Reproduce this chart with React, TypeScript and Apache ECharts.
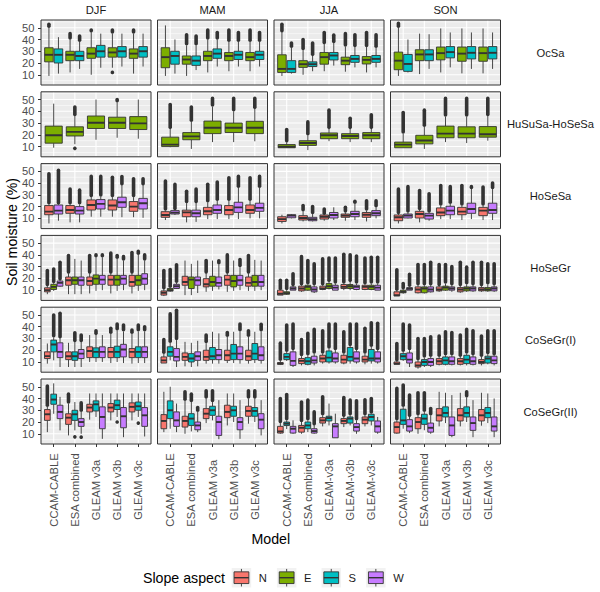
import React, { useEffect, useRef } from 'react';
import * as echarts from 'echarts';

// ---------- categories ----------
const SEASONS = ['DJF', 'MAM', 'JJA', 'SON'];
const MODELS = ['CCAM-CABLE', 'ESA combined', 'GLEAM v3a', 'GLEAM v3b', 'GLEAM v3c'];
const MODELS_JJA = ['CCAM-CABLE', 'ESA combined', 'GLEAM-v3a', 'GLEAM-v3b', 'GLEAM-v3c'];
const ROWS = ['OcSa', 'HuSuSa-HoSeSa', 'HoSeSa', 'HoSeGr', 'CoSeGr(I)', 'CoSeGr(II)'];
const ASPECTS = ['N', 'E', 'S', 'W'];
const ASPECT_COLORS = ['#F8766D', '#7CAE00', '#00BFC4', '#C77CFF'];
const Y_MAJOR = [10, 20, 30, 40, 50];
const Y_MINOR = [5, 15, 25, 35, 45, 55];
const X_TICKS = [1, 2, 3, 4, 5];

// ---------- box statistics ----------
// per season (DJF, MAM, JJA, SON), per model: [lower whisker, Q1, median, Q3, upper whisker, top of outliers, low outlier]
const OcSa_E = [
  [[9, 21, 27, 33, 50, 53, 0], [12, 22, 27, 30, 40, 45, 0], [10, 24, 28, 33, 46, 48, 0], [16, 25, 29, 33, 45, 48, 12], [11, 24, 28, 32, 45, 48, 0]],
  [[9, 16, 25, 33, 52, 0, 0], [9, 19, 23, 26, 35, 44, 0], [12, 22, 26, 30, 40, 48, 0], [13, 22, 26, 29, 38, 48, 0], [13, 22, 25, 29, 38, 48, 0]],
  [[9, 12, 15, 27, 46, 53, 0], [10, 16.3, 19, 22, 31, 40, 0], [13, 19, 25, 29, 36, 46, 0], [12.6, 18.6, 22, 25, 34, 45, 0], [12, 19.2, 22.7, 25.5, 33.6, 46, 0]],
  [[9, 14.3, 22, 29.3, 50, 53.7, 0], [10.6, 22, 27.3, 31.3, 45, 0, 0], [12, 22.7, 28.4, 33.6, 49.4, 0, 0], [11.2, 21.5, 28, 33.6, 49.4, 0, 0], [11.2, 21.5, 28.4, 33.6, 49.4, 0, 0]],
];
const OcSa_S = [
  [[11, 20, 27, 32, 42, 0, 0], [15, 22, 26, 30, 38, 43, 0], [16, 25, 30, 35, 45, 0, 0], [17, 25, 30, 34, 45, 0, 0], [17, 25, 30, 34, 45, 0, 0]],
  [[11, 19, 26, 30, 40, 0, 0], [14, 18, 22, 26, 35, 43, 0], [17, 24, 28, 32, 40, 46, 0], [17, 23, 27, 30, 38, 46, 0], [17, 23, 27, 30, 38, 46, 0]],
  [[11, 12, 15, 22, 33, 37, 0], [13, 17, 19, 21, 26, 37, 0], [17.8, 22.6, 26.4, 29, 37, 43.7, 0], [16.3, 20.6, 23.5, 26.4, 33.6, 44, 0], [16.3, 20.6, 23.5, 26.4, 33, 44, 0]],
  [[12, 12.9, 19.2, 27.3, 40, 0, 0], [15, 22, 27.3, 31.3, 44.5, 0, 0], [16.3, 24.4, 29.3, 34, 46, 0, 0], [15, 23.5, 28.7, 34, 46, 0, 0], [15, 23.5, 28.7, 34, 46, 0, 0]],
];
const HuSuSa_E = [
  [[9, 12.9, 19.6, 27.4, 46.5, 0, 0], [12, 19, 22.5, 26.8, 36, 43.6, 8.5], [15.8, 25.4, 30.3, 36, 50, 0, 0], [17.5, 25.4, 30.3, 35, 47.7, 50, 0], [16.7, 24.5, 29.7, 35.5, 50, 0, 0]],
  [[9.4, 10, 11.7, 18, 25, 45.7, 0], [8, 15.8, 18.7, 21.9, 31, 43.6, 0], [13.8, 21, 26, 31.7, 44, 51, 0], [13.8, 22, 26, 30, 40, 51, 0], [14.5, 21, 26, 31.5, 42, 51, 0]],
  [[8.8, 9, 9.8, 11.7, 13.5, 24.5, 0], [7, 11, 13, 15, 19.6, 31, 0], [14.6, 16.7, 19.6, 21.6, 25, 41, 0], [13.8, 16.7, 19, 21, 25, 34, 0], [13.8, 16.7, 19.6, 21.9, 25, 37, 0]],
  [[9, 9, 11.7, 13.8, 21, 39, 0], [8, 12.3, 15.2, 19.6, 26.8, 41, 0], [13.8, 17.5, 21, 27.4, 35.5, 51, 0], [13, 17.5, 21, 26.8, 35.5, 51, 0], [15, 18, 20.5, 27, 36, 51, 0]],
];
const HoSeSa_N = [
  [[5.7, 13.1, 15.7, 20.9, 22, 48, 0], [6.6, 14.3, 17.1, 20.9, 22, 35, 0], [11.4, 17.1, 21.4, 25.7, 28, 45.7, 0], [11.4, 17.1, 21, 25.7, 28, 45, 0], [11, 16, 20, 24.3, 28, 43.7, 0]],
  [[8.6, 10.9, 12.9, 15.7, 16.6, 41.7, 0], [6.6, 11.4, 15.1, 17, 22.9, 33, 0], [9.4, 13.1, 16, 19.4, 23.7, 39, 0], [9.4, 13.1, 17.1, 20.9, 25, 44.6, 0], [10, 14.3, 17.1, 21.4, 25, 44.6, 0]],
  [[5.7, 7.4, 9.4, 11.4, 13.1, 0, 0], [7.4, 8.6, 10.3, 12.3, 16, 21, 0], [8, 9.4, 11.4, 12.9, 13.1, 18, 0], [8, 10.9, 12.3, 13.7, 15, 19.4, 0], [7.4, 10.9, 13.1, 15, 16.6, 25, 0]],
  [[5.7, 8, 10.9, 12.9, 13.7, 35, 0], [6.6, 10.3, 13.7, 16, 17.1, 33.7, 0], [9.4, 12.3, 15, 18.9, 20.9, 38, 0], [8.6, 13.1, 15.7, 19.4, 20.9, 38, 0], [8.6, 12.3, 16.6, 19.4, 20.9, 36.6, 0]],
];
const HoSeSa_W = [
  [[8, 13.7, 16.6, 21.4, 22, 51, 0], [6.6, 13.7, 16.6, 20, 22, 34, 0], [11.4, 18, 22.3, 26, 28.6, 45.7, 0], [11, 19.4, 23.7, 28, 38, 45.6, 0], [10.5, 18, 22.9, 27, 38, 43.7, 0]],
  [[12.9, 13.7, 14.9, 16.6, 17.1, 38.9, 0], [7, 11.4, 14.3, 17, 22.9, 35, 0], [9.4, 14.3, 17.1, 21.4, 25, 40.9, 0], [9.4, 15.1, 19.4, 23.7, 36, 45.7, 0], [10, 16, 18.9, 22.9, 36, 45.7, 0]],
  [[10, 10.5, 12.3, 13.1, 13.7, 0, 0], [7.4, 8, 9.4, 10.9, 13.7, 20, 0], [8.6, 10.3, 12.9, 15, 19.4, 0, 0], [8.6, 11.4, 13.7, 16, 22.3, 24.6, 0], [10, 12.3, 14.3, 16.6, 19.4, 25, 0]],
  [[10, 10.3, 12.3, 13.7, 15, 37, 0], [8, 9.4, 12.3, 14.3, 15, 30.9, 0], [9.4, 13.1, 16.6, 20.3, 22.3, 37, 0], [9.4, 14.3, 18, 22.9, 35, 37, 0], [8.6, 14.3, 17.1, 22.9, 35, 40, 0]],
];
const HoSeGr_N = [
  [[6.6, 8.6, 10, 12, 13.4, 26.8, 0], [6.6, 14.2, 18.4, 21.2, 24, 39.4, 0], [7.2, 14.2, 17.8, 21.2, 24, 39.4, 0], [7.2, 14.2, 19, 22.6, 24, 41.6, 0], [7.2, 13.4, 17, 22.6, 24, 42, 0]],
  [[5, 5.8, 7.8, 9.4, 10.6, 26.8, 0], [5.8, 14.2, 17, 21.8, 35.2, 0, 0], [8.6, 12.8, 15, 19.8, 24, 35.2, 0], [8.6, 14.2, 19, 22.6, 24, 40, 0], [9.4, 13.4, 16.2, 21.2, 24, 39.4, 0]],
  [[5.8, 5.8, 7, 10, 10, 18.4, 0], [8.6, 9.4, 11.4, 13.4, 14.2, 38.5, 0], [10, 10.6, 11.4, 13.4, 14.2, 36.6, 0], [10, 11.4, 12.8, 14.8, 15.6, 40.5, 0], [10, 10.6, 12.8, 14.2, 15, 37.4, 0]],
  [[5, 5, 5.8, 8.6, 9.4, 27.4, 0], [7.2, 7.8, 10.6, 12.8, 14.2, 31.8, 0], [8.6, 9.4, 10.6, 12.8, 13.4, 31.8, 0], [7.8, 8.6, 10.6, 12.2, 13.4, 33.8, 0], [8.6, 9.4, 10.6, 12.2, 13.4, 33.8, 0]],
];
const HoSeGr_E = [
  [[9.4, 10.6, 12.8, 15, 16, 28, 0], [6.6, 15, 18.4, 21.2, 36.6, 0, 0], [9.4, 15, 19.8, 23, 38, 40, 0], [9.4, 14.2, 19, 22.6, 36.6, 39.4, 0], [9.4, 14.2, 18.4, 22.6, 40, 43, 0]],
  [[8.6, 9.2, 10, 11.4, 12, 27.6, 0], [5.8, 11.4, 19, 21.2, 32.4, 0, 0], [9.4, 13.4, 17, 21.8, 35.2, 0, 0], [9.4, 12.8, 17.8, 22.6, 35.2, 0, 0], [9.4, 13.4, 17, 22.6, 35.8, 0, 0]],
  [[6, 6.6, 7.4, 8.6, 10, 18.4, 0], [9.4, 10, 12.8, 14.2, 15, 35.2, 0], [10.6, 11.4, 13.4, 15.6, 17, 37.4, 0], [10, 11.4, 13.4, 14.8, 17, 40.2, 0], [10, 10.6, 12.8, 14.2, 15.6, 38, 0]],
  [[7, 7.8, 8.6, 10, 10.6, 15.6, 0], [7.2, 7.8, 11.4, 12.8, 14.2, 31.8, 0], [9.4, 10, 12.2, 13.4, 15.6, 31.8, 0], [8.6, 9.4, 11.4, 12.8, 15, 29.6, 0], [8.6, 9.4, 10.6, 12.2, 15, 32.4, 0]],
];
const HoSeGr_W = [
  [[12.8, 13.4, 16.2, 17.8, 18.4, 33.8, 0], [6.6, 14.2, 18.4, 21.2, 35.2, 0, 0], [10, 15, 19, 22.6, 38, 40, 0], [10, 15, 19.8, 22.6, 35.2, 38.5, 0], [10, 15, 19.8, 24, 35.2, 40, 0]],
  [[11, 11.4, 13.4, 15, 16.2, 31.6, 0], [7.6, 14.2, 18.4, 21.2, 35.2, 0, 0], [10.6, 13.4, 16.2, 21.2, 32, 35, 0], [10, 14.2, 18.4, 22.6, 29.6, 36, 0], [10, 13.4, 17, 22.6, 35.2, 0, 0]],
  [[10, 10, 11.4, 12.8, 13.4, 24, 0], [7.6, 8.6, 10.6, 12.8, 14.2, 32.4, 0], [10, 10, 12.2, 14.2, 15.6, 37.4, 0], [10, 10.6, 12.8, 14.2, 15.6, 39, 0], [10, 10, 12.2, 14.2, 15.6, 38, 0]],
  [[10, 10, 11.1, 12.2, 12.8, 23.4, 0], [8, 8.6, 10.6, 12.8, 14.2, 33.8, 0], [8.6, 10, 11.4, 12.8, 14.2, 30, 0], [8.6, 9.4, 11.4, 12.8, 14.2, 33.8, 0], [8.6, 9.4, 11.4, 12.8, 14.2, 32.4, 0]],
];
const CoSeGr1_N = [
  [[8.6, 12.9, 15, 18.6, 25.7, 0, 0], [5.7, 12, 14.9, 18.6, 26.3, 0, 0], [10, 13.7, 19.4, 22.9, 32.9, 0, 0], [9.1, 13.7, 18.6, 22.3, 34, 38.6, 0], [8.6, 13.7, 18.6, 21.4, 34, 37.1, 0]],
  [[9.1, 9.1, 11.4, 14.3, 17, 29, 0], [6.3, 11.4, 14.3, 17.7, 27.1, 0, 0], [8.6, 11.4, 14.3, 20, 26, 33, 0], [9.1, 11.4, 15.7, 20, 31.4, 35, 0], [8.6, 11.4, 14.9, 20, 31.4, 36.6, 0]],
  [[7.4, 8, 8.6, 9.5, 11, 26, 0], [7.1, 8.6, 10.9, 12.9, 14.9, 29, 0], [8.6, 10, 12.9, 15.7, 17.1, 36.6, 0], [8, 9.1, 12, 15.7, 17.1, 35.7, 0], [8, 10, 12, 14.9, 17.1, 38.6, 0]],
  [[8, 8, 8.6, 10, 10.6, 25.7, 0], [4.3, 5.7, 7.1, 10, 11.4, 30, 0], [7.1, 8, 10.6, 12.9, 14.3, 32, 0], [7.1, 8, 10.6, 12.9, 14.3, 32.9, 0], [7.1, 8.6, 10, 12, 14.3, 32, 0]],
];
const CoSeGr1_S = [
  [[11.4, 18.6, 24.9, 28.6, 31, 50, 0], [5.7, 11.4, 14.9, 18.6, 27, 34.9, 0], [10, 13.7, 18.6, 22, 33, 36.6, 0], [10, 13.7, 18.6, 23.4, 37, 42.3, 0], [9.1, 13.7, 18.6, 22.9, 36, 41.4, 0]],
  [[11.4, 14.9, 18.6, 22.9, 26.3, 50.9, 0], [5.7, 10, 12.9, 17.1, 26.3, 0, 0], [8.6, 12, 14.9, 22.3, 35.7, 0, 0], [9.1, 12, 17.1, 24.9, 35.7, 0, 0], [9.1, 12, 17.1, 25.7, 35.7, 0, 0]],
  [[10.9, 12, 14.3, 17.1, 18.6, 41.4, 0], [7.1, 8, 10.6, 13.7, 15.7, 34.3, 0], [8.6, 10, 13.7, 19.4, 21.4, 42.3, 0], [8.6, 10.9, 14.3, 22.3, 23.4, 42.3, 0], [8.6, 10.9, 12.9, 20.6, 22.9, 43.4, 0]],
  [[10.9, 12, 14.9, 17.1, 18.6, 42.3, 0], [5.7, 7.1, 10, 12, 13.7, 30, 0], [7.1, 8, 11.4, 14.3, 15.7, 35.7, 0], [7.1, 8.6, 12, 15.7, 17.1, 37.7, 0], [8, 9.1, 12.9, 14.9, 16.6, 36.6, 0]],
];
const CoSeGr1_W = [
  [[5.7, 13.7, 18.6, 26.3, 30, 51.4, 0], [5.7, 12.9, 17.1, 20.6, 27, 32.9, 0], [10, 13.7, 18.6, 22.9, 32.9, 0, 0], [9.1, 14.3, 20.6, 25, 36, 41.4, 0], [9.1, 13.7, 18.6, 22.9, 36, 40, 0]],
  [[5.7, 10.9, 14.3, 21.4, 28.6, 54, 0], [6.3, 11.4, 14.9, 18.6, 28, 0, 0], [8.6, 12, 15.7, 20.6, 34.3, 0, 0], [8.6, 12, 17.1, 22.9, 36, 42.3, 0], [8.6, 11.4, 15.7, 22.9, 36, 42, 0]],
  [[5.7, 7.1, 10.9, 18.6, 20, 42.3, 0], [7.1, 9.1, 11.4, 14.9, 17.1, 37.7, 0], [8.6, 10, 12.9, 17.7, 20, 42.3, 0], [8.6, 10, 12.9, 18.6, 20, 42.3, 0], [8.6, 10, 12.9, 18.6, 20, 42.9, 0]],
  [[5.7, 9.1, 12, 17.7, 20, 41.4, 0], [5.7, 7.1, 10, 12.9, 14.3, 31.4, 0], [7.1, 8, 10.6, 14.3, 15.7, 35, 0], [7.1, 8, 10.6, 14.3, 15.7, 36.6, 0], [7.1, 8.6, 11.4, 14.9, 15.7, 36.6, 0]],
];
const CoSeGr2_N = [
  [[11.4, 21.4, 26.6, 30.6, 33, 50.6, 0], [8.6, 18, 23.7, 27, 35.7, 43.7, 0], [22, 28.6, 32.3, 35.1, 44.3, 0, 0], [21.4, 28.6, 32.3, 35.7, 44.3, 0, 0], [21.4, 28.6, 32.9, 36.3, 44.3, 0, 0]],
  [[11.4, 14.3, 20.9, 26.3, 45.7, 0, 0], [10, 15.7, 20.9, 24.9, 38, 45.7, 0], [19.1, 22.9, 27.1, 31.4, 40, 46.6, 0], [17.1, 23.7, 28.6, 34.3, 44.3, 0, 0], [18.6, 24.9, 29.4, 33.4, 40, 46.6, 0]],
  [[10, 10.6, 12, 16.3, 19, 40, 0], [10, 11.4, 15.1, 17.1, 20, 37, 0], [16.3, 19.1, 21.4, 23.7, 25.7, 41.4, 0], [15.7, 18.6, 20.9, 22.9, 24.3, 40.9, 0], [16.3, 18.6, 22, 24.3, 25.7, 39, 0]],
  [[10, 10.6, 15.7, 20, 21.4, 48.6, 0], [10, 14.3, 20, 23.7, 25.7, 44.9, 0], [16.3, 20.9, 25.7, 31.4, 45.7, 0, 0], [16.3, 20.9, 25.7, 31.4, 44.9, 0, 0], [16.9, 20.9, 25.7, 30.6, 44.9, 0, 0]],
];
const CoSeGr2_S = [
  [[27, 35.1, 39.1, 43.7, 52.9, 0, 0], [12.9, 21.4, 26.6, 30, 37, 0, 7.4], [24.3, 29.4, 35.1, 38, 44.3, 0, 0], [24.3, 30.6, 34.3, 38.6, 44.3, 0, 20], [24.3, 30, 33.4, 37, 44.3, 0, 19.1]],
  [[14.3, 22.9, 30, 38, 50, 0, 0], [12, 17.1, 22.9, 27.1, 37, 43.7, 0], [21.4, 25.7, 30, 33.4, 37, 46.6, 0], [20, 24.9, 30, 33.4, 44.3, 0, 0], [20, 24.9, 29.4, 32.3, 40, 46.6, 0]],
  [[14, 17, 18.6, 20, 21.4, 43.4, 0], [11.4, 14.3, 17.1, 20, 21.4, 38.6, 0], [17.1, 20.9, 23.4, 24.9, 35.7, 0, 0], [17.1, 19.1, 22.9, 24.3, 25.7, 38.6, 0], [17.1, 20.9, 24.3, 26.6, 27.1, 40, 0]],
  [[14.3, 18, 21.4, 30.9, 32.9, 51.4, 0], [13, 18, 22.9, 26.6, 28.6, 44.9, 0], [19.1, 24.3, 27.7, 32.9, 44.9, 0, 0], [20, 24.3, 27.7, 32.9, 40.9, 45.7, 0], [19.1, 23.7, 27.7, 32.3, 44.3, 0, 0]],
];
const CoSeGr2_W = [
  [[12.9, 22.9, 28.6, 34.3, 41.4, 0, 0], [10, 16.3, 20, 22.9, 28.6, 36.3, 7.1], [5.7, 14.3, 24.3, 32.9, 44.3, 0, 0], [7.1, 15.1, 24.9, 32.3, 44.3, 0, 0], [7.7, 16.3, 25.7, 32.3, 44.3, 0, 0]],
  [[11.4, 16.3, 21.4, 28.6, 35.7, 0, 0], [11.4, 13.4, 17.1, 20, 28.6, 32.3, 0], [5.4, 8.6, 20, 24.9, 38.6, 0, 0], [5.7, 13.4, 20, 23.7, 38.6, 0, 0], [8.6, 14.3, 22, 27.1, 38.6, 0, 0]],
  [[10, 10.6, 14.3, 16.3, 21.4, 0, 0], [10, 10.6, 12.3, 14.3, 17.1, 28.6, 0], [6.6, 6.6, 16.3, 18.6, 27.1, 0, 0], [10, 12.3, 15.7, 18.6, 21.4, 38, 0], [10, 11.4, 16.3, 20.9, 24.3, 0, 0]],
  [[10.6, 12.3, 16.3, 22, 24.3, 43, 0], [10, 11.4, 15.1, 19.1, 25.7, 31.4, 0], [7.1, 8.6, 17.1, 24.3, 42.9, 0, 0], [7.1, 12.9, 19.1, 24.3, 38.6, 0, 0], [7.1, 12.3, 16.3, 24.3, 40, 0, 0]],
];

// which aspects appear in each row (in dodge order)
const ROW_ASPECTS: [string, number[][][]][][] = [
  [['E', OcSa_E], ['S', OcSa_S]],
  [['E', HuSuSa_E]],
  [['N', HoSeSa_N], ['W', HoSeSa_W]],
  [['N', HoSeGr_N], ['E', HoSeGr_E], ['W', HoSeGr_W]],
  [['N', CoSeGr1_N], ['S', CoSeGr1_S], ['W', CoSeGr1_W]],
  [['N', CoSeGr2_N], ['S', CoSeGr2_S], ['W', CoSeGr2_W]],
];

// ---------- layout ----------
const FONT = '"Liberation Sans", Arial, Helvetica, sans-serif';
const AXIS_FS = 11.2;
const TITLE_FS = 14.2;
const PANEL_LEFT = 41;
const PANEL_W = 110;
const COL_STEP = 116.5;
const PANEL_TOP = 20;
const PANEL_H = 65;
const ROW_STEP = 71.8;
const X_MIN = 0.4;
const X_MAX = 5.6;
const Y_MIN = 1.3;
const Y_MAX = 56.6;
const DODGE = 0.9;
const BOX_FRAC = 0.9;
const INK = '#333333';

function boxRenderer(color: string) {
  return (params: any, api: any) => {
    const x = api.value(0);
    const lo = api.value(1), q1 = api.value(2), med = api.value(3), q3 = api.value(4), hi = api.value(5);
    const oT = api.value(6), oB = api.value(7), slot = api.value(8), n = api.value(9);
    const slotW = DODGE / n;
    const cx = x - DODGE / 2 + (slot + 0.5) * slotW;
    const half = (slotW * BOX_FRAC) / 2;
    const tl = api.coord([cx - half, q3]);
    const br = api.coord([cx + half, q1]);
    const X = api.coord([cx, med])[0];
    const Y = (v: number) => api.coord([cx, v])[1];
    const children: any[] = [];
    if (oT > hi) {
      children.push({
        type: 'line',
        shape: { x1: X, y1: Y(hi) - 1.6, x2: X, y2: Y(oT) },
        style: { stroke: INK, lineWidth: 3.6, lineCap: 'round' },
      });
    }
    if (oB > 0) {
      children.push({ type: 'circle', shape: { cx: X, cy: Y(oB), r: 1.8 }, style: { fill: INK } });
    }
    children.push({ type: 'line', shape: { x1: X, y1: Y(hi), x2: X, y2: Y(q3) }, style: { stroke: INK, lineWidth: 0.9 } });
    children.push({ type: 'line', shape: { x1: X, y1: Y(q1), x2: X, y2: Y(lo) }, style: { stroke: INK, lineWidth: 0.9 } });
    children.push({
      type: 'rect',
      shape: { x: tl[0], y: tl[1], width: br[0] - tl[0], height: br[1] - tl[1] },
      style: { fill: color, stroke: INK, lineWidth: 0.9 },
    });
    children.push({
      type: 'line',
      shape: { x1: tl[0], y1: Y(med), x2: br[0], y2: Y(med) },
      style: { stroke: INK, lineWidth: 1.9 },
    });
    return { type: 'group', children };
  };
}

function gridRenderer(params: any, api: any) {
  const t = api.value(0), v = api.value(1), major = api.value(2);
  const p1 = t === 0 ? api.coord([X_MIN, v]) : api.coord([v, Y_MIN]);
  const p2 = t === 0 ? api.coord([X_MAX, v]) : api.coord([v, Y_MAX]);
  return {
    type: 'line',
    shape: { x1: p1[0], y1: p1[1], x2: p2[0], y2: p2[1] },
    style: { stroke: '#FFFFFF', lineWidth: major ? 1.1 : 0.55 },
  };
}

function borderRenderer(params: any, api: any) {
  const p1 = api.coord([X_MIN, Y_MAX]);
  const p2 = api.coord([X_MAX, Y_MIN]);
  return {
    type: 'rect',
    shape: { x: p1[0], y: p1[1], width: p2[0] - p1[0], height: p2[1] - p1[1] },
    style: { fill: 'none', stroke: INK, lineWidth: 1 },
  };
}

function buildOption() {
  const grid: any[] = [];
  const xAxis: any[] = [];
  const yAxis: any[] = [];
  const series: any[] = [];
  const graphic: any[] = [];

  const gridData = [
    ...Y_MINOR.map((v) => [0, v, 0]),
    ...Y_MAJOR.map((v) => [0, v, 1]),
    ...X_TICKS.map((v) => [1, v, 1]),
  ];

  ROWS.forEach((rowName, r) => {
    const aspects = ROW_ASPECTS[r];
    const top = PANEL_TOP + r * ROW_STEP;
    SEASONS.forEach((season, c) => {
      const gi = r * SEASONS.length + c;
      const left = PANEL_LEFT + c * COL_STEP;
      const isBottom = r === ROWS.length - 1;
      const isLeft = c === 0;
      const labels = season === 'JJA' ? MODELS_JJA : MODELS;
      grid.push({ left, top, width: PANEL_W, height: PANEL_H, show: true, backgroundColor: '#EBEBEB', borderWidth: 0 });
      xAxis.push({
        gridIndex: gi,
        type: 'value',
        min: X_MIN,
        max: X_MAX,
        position: 'bottom',
        axisLine: { show: false },
        splitLine: { show: false },
        axisTick: { show: isBottom, customValues: X_TICKS, length: 3, lineStyle: { color: INK, width: 1 } },
        axisLabel: {
          show: isBottom,
          customValues: X_TICKS,
          rotate: 90,
          align: 'center',
          verticalAlign: 'middle',
          margin: 46,
          fontSize: AXIS_FS,
          fontFamily: FONT,
          color: '#4D4D4D',
          formatter: (v: number) => labels[Math.round(v) - 1] ?? '',
        },
      });
      yAxis.push({
        gridIndex: gi,
        type: 'value',
        min: Y_MIN,
        max: Y_MAX,
        position: 'left',
        axisLine: { show: false },
        splitLine: { show: false },
        axisTick: { show: isLeft, customValues: Y_MAJOR, length: 3, lineStyle: { color: INK, width: 1 } },
        axisLabel: {
          show: isLeft,
          customValues: Y_MAJOR,
          margin: 6.5,
          fontSize: AXIS_FS,
          fontFamily: FONT,
          color: '#4D4D4D',
        },
      });
      series.push({
        type: 'custom',
        xAxisIndex: gi,
        yAxisIndex: gi,
        z: 1,
        silent: true,
        clip: true,
        data: gridData,
        renderItem: gridRenderer,
      });
      aspects.forEach(([asp, arr], k) => {
        const color = ASPECT_COLORS[ASPECTS.indexOf(asp)];
        const data = arr[c].map((b, m) => [m + 1, ...b, k, aspects.length]);
        series.push({
          type: 'custom',
          name: asp,
          xAxisIndex: gi,
          yAxisIndex: gi,
          z: 2,
          silent: true,
          clip: true,
          encode: { x: 0, y: [1, 5] },
          data,
          renderItem: boxRenderer(color),
        });
      });
      series.push({
        type: 'custom',
        xAxisIndex: gi,
        yAxisIndex: gi,
        z: 3,
        silent: true,
        clip: false,
        data: [[1, 10]],
        renderItem: borderRenderer,
      });
    });
    // row strip label
    graphic.push({
      type: 'text',
      x: 550.5,
      y: top + PANEL_H / 2,
      style: { text: rowName, align: 'center', verticalAlign: 'middle', fontSize: AXIS_FS, fontFamily: FONT, fill: '#1A1A1A' },
    });
  });

  SEASONS.forEach((season, c) => {
    graphic.push({
      type: 'text',
      x: PANEL_LEFT + c * COL_STEP + PANEL_W / 2,
      y: 10,
      style: { text: season, align: 'center', verticalAlign: 'middle', fontSize: AXIS_FS, fontFamily: FONT, fill: '#1A1A1A' },
    });
  });

  const panelsBottom = PANEL_TOP + (ROWS.length - 1) * ROW_STEP + PANEL_H;
  graphic.push({
    type: 'text',
    x: 12,
    y: (PANEL_TOP + panelsBottom) / 2,
    rotation: Math.PI / 2,
    style: { text: 'Soil moisture (%)', align: 'center', verticalAlign: 'middle', fontSize: TITLE_FS, fontFamily: FONT, fill: '#000000' },
  });
  graphic.push({
    type: 'text',
    x: PANEL_LEFT + (3 * COL_STEP + PANEL_W) / 2,
    y: 539,
    style: { text: 'Model', align: 'center', verticalAlign: 'middle', fontSize: TITLE_FS, fontFamily: FONT, fill: '#000000' },
  });

  // legend
  const LEG_Y = 577.7;
  const KEY = 19.5;
  graphic.push({
    type: 'text',
    x: 225,
    y: LEG_Y,
    style: { text: 'Slope aspect', align: 'right', verticalAlign: 'middle', fontSize: TITLE_FS, fontFamily: FONT, fill: '#000000' },
  });
  const LABEL_W: Record<string, number> = { N: 8.1, E: 7.5, S: 7.5, W: 10.6 };
  let kx = 231.7;
  ASPECTS.forEach((asp, i) => {
    const ky = LEG_Y - KEY / 2;
    const mid = kx + KEY / 2;
    graphic.push({
      type: 'group',
      children: [
        { type: 'rect', shape: { x: kx, y: ky, width: KEY, height: KEY }, style: { fill: '#F2F2F2' } },
        { type: 'line', shape: { x1: mid, y1: ky + KEY * 0.05, x2: mid, y2: ky + KEY * 0.2 }, style: { stroke: INK, lineWidth: 0.9 } },
        { type: 'line', shape: { x1: mid, y1: ky + KEY * 0.8, x2: mid, y2: ky + KEY * 0.95 }, style: { stroke: INK, lineWidth: 0.9 } },
        {
          type: 'rect',
          shape: { x: kx + KEY * 0.12, y: ky + KEY * 0.2, width: KEY * 0.76, height: KEY * 0.6 },
          style: { fill: ASPECT_COLORS[i], stroke: INK, lineWidth: 0.9 },
        },
        { type: 'line', shape: { x1: kx + KEY * 0.12, y1: LEG_Y, x2: kx + KEY * 0.88, y2: LEG_Y }, style: { stroke: INK, lineWidth: 1.4 } },
      ],
    });
    const tx = kx + KEY + 7.6;
    graphic.push({
      type: 'text',
      x: tx,
      y: LEG_Y,
      style: { text: asp, align: 'left', verticalAlign: 'middle', fontSize: AXIS_FS, fontFamily: FONT, fill: '#1A1A1A' },
    });
    kx = tx + LABEL_W[asp] + 10;
  });

  return {
    animation: false,
    backgroundColor: '#FFFFFF',
    grid,
    xAxis,
    yAxis,
    series,
    graphic,
  };
}

export default function App() {
  const ref = useRef<HTMLDivElement>(null);
  useEffect(() => {
    document.body.style.margin = '0';
    const chart = echarts.init(ref.current as HTMLDivElement, null, { renderer: 'svg' });
    chart.setOption(buildOption() as any);
    return () => chart.dispose();
  }, []);
  return <div ref={ref} style={{ width: 600, height: 592 }} />;
}
